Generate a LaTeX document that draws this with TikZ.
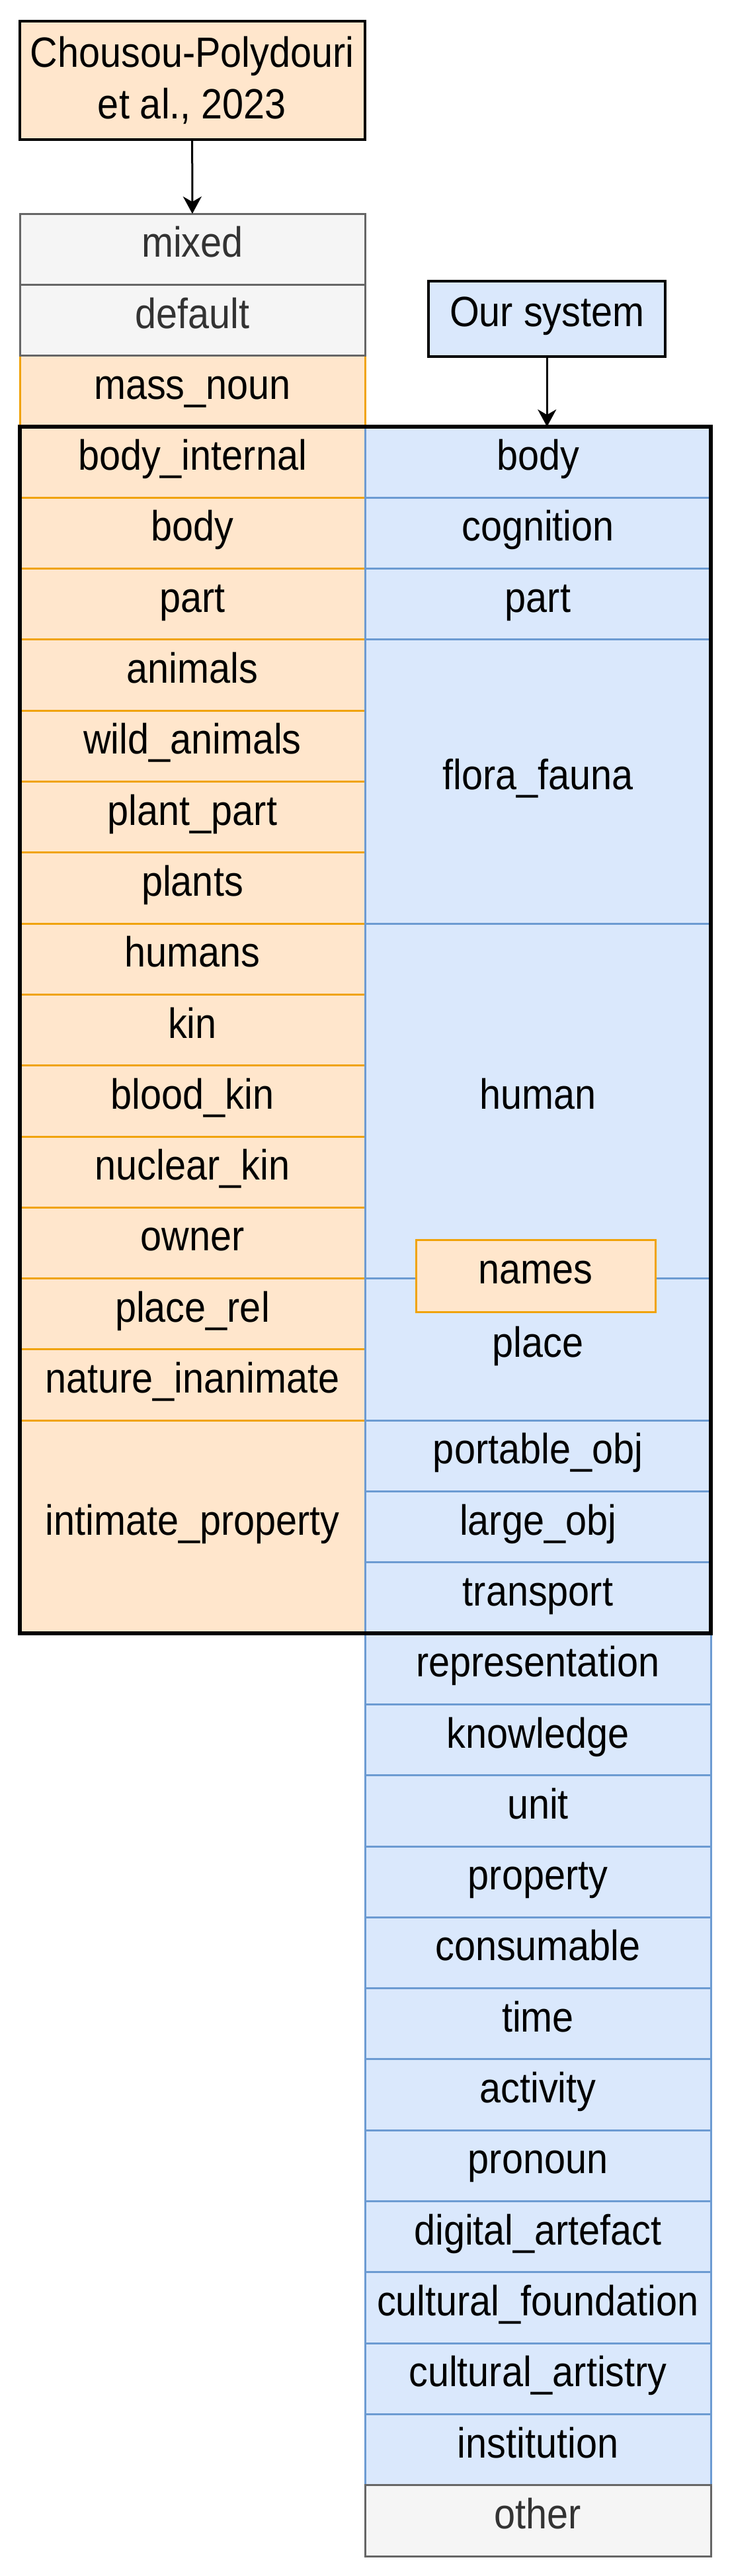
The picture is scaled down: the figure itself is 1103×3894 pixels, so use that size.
\documentclass[tikz,border=0pt]{standalone}
\usepackage{fontspec}
\setmainfont{Liberation Sans}[FakeStretch=0.9]
\usetikzlibrary{arrows.meta}
\definecolor{orfill}{HTML}{FFE6CC}
\definecolor{orline}{HTML}{F0A30A}
\definecolor{blfill}{HTML}{DAE8FC}
\definecolor{blline}{HTML}{6C9BD2}
\definecolor{grfill}{HTML}{F5F5F5}
\definecolor{grline}{HTML}{666666}
\definecolor{grtext}{HTML}{333333}

\begin{document}
\begin{tikzpicture}[x=0.25pt,y=-0.25pt]
  \useasboundingbox (0,0) rectangle (1103,3894);
  \tikzstyle{every node}=[rectangle,inner sep=0pt,outer sep=0pt,font=\fontsize{16}{19.65}\selectfont]
  \tikzstyle{cell}=[minimum width=130.5pt,text height=0.8em,text depth=0.2em,line width=0.75pt]
  \tikzstyle{oldcell}=[cell,fill=orfill,draw=orline]
  \tikzstyle{newcell}=[cell,fill=blfill,draw=blline,minimum width=130.75pt]
  \tikzstyle{othercell}=[cell,fill=grfill,draw=grline,text=grtext]
  \tikzstyle{header}=[draw=black,line width=1pt]
  \tikzstyle{link}=[-{Stealth[length=6.5pt,width=7pt,inset=2pt]},line width=0.75pt]
  \newcommand{\rowtop}{645}
  \newcommand{\rowh}{107.3}
  \newcommand{\rowpt}{26.825pt}

%% old classes (left column)
  \foreach \n/\s/\txt in {-1/1/mass\_noun, 0/1/body\_internal, 1/1/body, 2/1/part,
                          3/1/animals, 4/1/wild\_animals, 5/1/plant\_part, 6/1/plants,
                          7/1/humans, 8/1/kin, 9/1/blood\_kin, 10/1/nuclear\_kin,
                          11/1/owner, 12/1/place\_rel, 13/1/nature\_inanimate,
                          14/3/intimate\_property}
    \node[oldcell,minimum height=\s*\rowpt] (left\n) at (291,{\rowtop+(\n+\s/2)*\rowh}) {\txt};
  \foreach \n/\txt in {-3/mixed, -2/default}
    \node[othercell,minimum height=\rowpt] (left\n) at (291,{\rowtop+(\n+0.5)*\rowh}) {\txt};

%% our classes (right column)
  \foreach \n/\s/\txt in {0/1/body, 1/1/cognition, 2/1/part, 3/4/flora\_fauna,
                          7/5/human, 12/2/place, 14/1/portable\_obj, 15/1/large\_obj,
                          16/1/transport, 17/1/representation, 18/1/knowledge, 19/1/unit,
                          20/1/property, 21/1/consumable, 22/1/time, 23/1/activity,
                          24/1/pronoun, 25/1/digital\_artefact, 26/1/cultural\_foundation,
                          27/1/cultural\_artistry, 28/1/institution}
    \node[newcell,minimum height=\s*\rowpt] (right\n) at (813.5,{\rowtop+(\n+\s/2)*\rowh}) {\txt};
  \node[othercell,minimum width=130.75pt,minimum height=\rowpt] (right29) at (813.5,{\rowtop+29.5*\rowh}) {other};

%% shared part
  \draw[line width=1.5pt] (left0.north west) rectangle (right16.south east);
  \node[oldcell,minimum width=90.5pt,minimum height=27.25pt] (names) at (810,1928.5) {names};

%% headers
  \node[header,fill=orfill,minimum width=130.5pt,minimum height=44.75pt,align=center] (chousou) at (290.5,121.5) {Chousou-Polydouri\\et al., 2023};
  \node[header,fill=blfill,minimum width=89.4pt,minimum height=28.5pt,text height=0.8em,text depth=0.2em] (oursys) at (827.25,482) {Our system};
  \draw[link] (chousou) -- (left-3);
  \draw[link] (oursys) -- (oursys |- right0.north);
\end{tikzpicture}
\end{document}
